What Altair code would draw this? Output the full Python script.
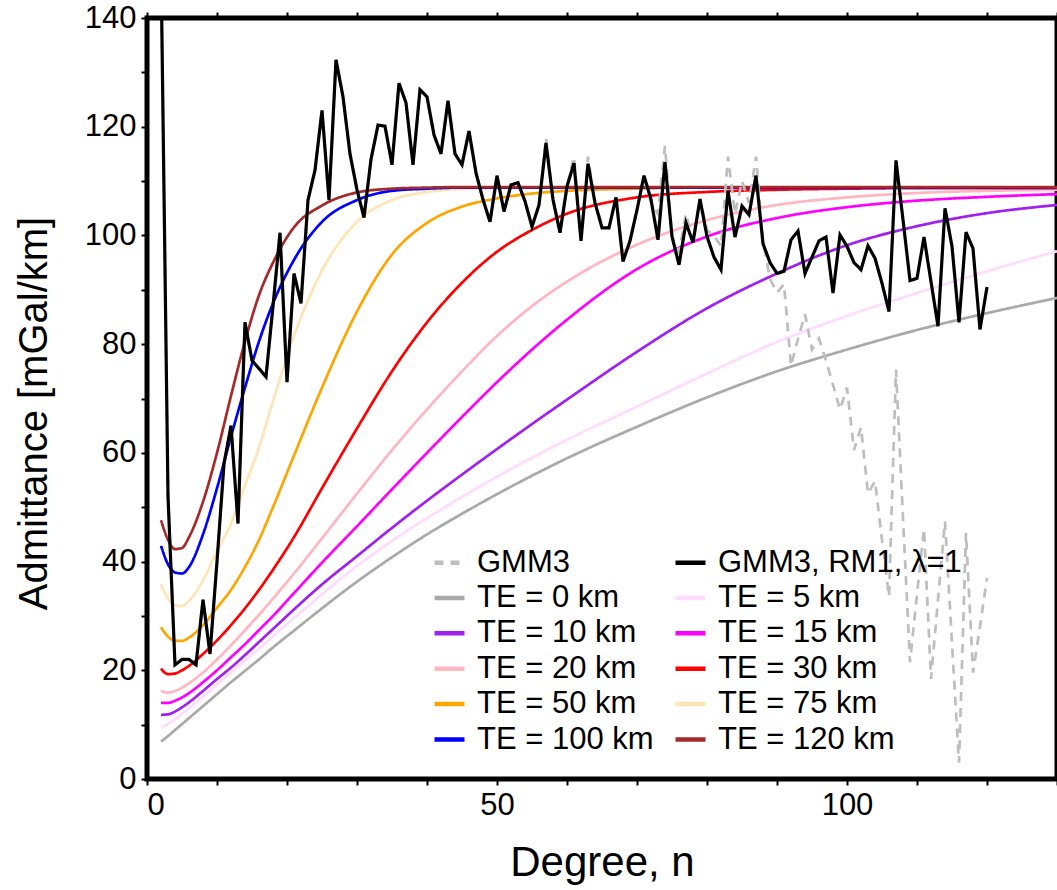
import altair as alt
import pandas as pd

FONT = "Liberation Sans"

# ---------------- data ----------------
deg_te = [2, 3, 4, 5, 6, 8, 10, 12, 14, 16, 18, 21, 25, 30, 35, 40, 45, 50, 55, 60, 70, 80, 90, 100, 110, 120, 130]

te0 = [6.9, 7.9, 9.0, 10.1, 11.2, 13.4, 15.6, 17.8, 19.9, 22.0, 24.2, 27.3, 31.4, 36.3, 40.8, 45.0, 48.8, 52.4, 55.8, 59.0, 64.8, 70.2, 75.0, 79.0, 82.6, 85.7, 88.5]
te5 = [9.5, 10.1, 11.0, 12.0, 13.0, 15.2, 17.4, 19.6, 21.8, 24.0, 26.3, 29.6, 34.0, 39.2, 43.8, 48.0, 51.9, 55.6, 59.1, 62.4, 68.5, 74.6, 80.4, 85.2, 89.4, 93.4, 97.1]
te10 = [11.8, 11.9, 12.4, 13.2, 14.1, 16.2, 18.4, 20.5, 22.8, 25.2, 27.6, 31.2, 35.8, 41.0, 46.2, 51.2, 56.0, 60.7, 65.3, 69.8, 78.6, 86.6, 93.0, 98.2, 101.7, 104.1, 105.6]
te15 = [14.0, 14.0, 14.4, 15.0, 15.8, 17.8, 20.0, 22.4, 24.8, 27.4, 30.0, 34.2, 39.8, 46.5, 53.3, 60.0, 66.6, 73.0, 79.0, 84.5, 93.8, 99.8, 103.2, 105.2, 106.4, 107.1, 107.6]
te20 = [16.2, 15.9, 16.2, 16.8, 17.6, 19.6, 22.0, 24.6, 27.4, 30.2, 33.2, 37.8, 44.3, 52.5, 60.5, 68.0, 75.0, 81.5, 87.0, 91.5, 98.3, 102.8, 105.6, 107.0, 107.8, 108.2, 108.4]
te30 = [20.3, 19.3, 19.4, 20.0, 20.8, 23.0, 25.5, 28.3, 31.4, 34.8, 38.5, 44.5, 53.5, 64.5, 75.0, 84.0, 91.3, 97.0, 101.0, 104.0, 107.0, 108.0, 108.4, 108.6, 108.7, 108.7, 108.7]
te50 = [27.9, 26.2, 25.4, 25.4, 26.0, 28.3, 31.5, 34.8, 39.0, 44.0, 50.0, 59.5, 72.0, 86.0, 96.5, 102.3, 105.3, 106.8, 107.7, 108.2, 108.6, 108.8, 108.8, 108.8, 108.8, 108.8, 108.8]
te75 = [35.8, 33.2, 32.0, 31.8, 32.8, 36.5, 42.0, 47.0, 54.0, 61.0, 69.5, 81.5, 93.5, 102.5, 106.5, 108.0, 108.5, 108.7, 108.8, 108.8, 108.8, 108.8, 108.8, 108.8, 108.8, 108.8, 108.8]
te100 = [42.9, 39.5, 38.0, 37.8, 39.0, 45.0, 53.5, 63.0, 72.0, 80.5, 87.5, 95.5, 102.5, 106.5, 108.2, 108.6, 108.8, 108.8, 108.8, 108.8, 108.8, 108.8, 108.8, 108.8, 108.8, 108.8, 108.8]
te120 = [47.6, 44.0, 42.3, 42.5, 44.5, 51.0, 60.0, 70.5, 80.5, 89.0, 95.0, 101.5, 105.5, 107.9, 108.6, 108.8, 108.9, 108.9, 108.9, 108.9, 108.9, 108.9, 108.9, 108.9, 108.9, 108.9, 108.9]

deg_obs = list(range(2, 121))
gmm3_rm1 = [150, 52, 21, 22, 22, 21, 33, 23, 40, 58, 65, 47, 84, 77, 75.5, 74, 87, 100.5, 73, 93,
            87.5, 106.5, 112, 123, 106.5, 132.3, 125.5, 115, 108.4, 103.3, 114, 120.3, 120.1, 113, 128, 124.4, 113, 126.8, 125.5, 118.5,
            115, 124.8, 115, 113, 119.2, 111.5, 106.6, 102.5, 111, 104.4, 109.3, 109.7, 106.3, 101.6, 105.6, 117, 106.6, 100.5, 109, 113.3,
            99, 113.2, 106, 101.4, 101.4, 107, 95.2, 99, 104.7, 111, 106.6, 99.2, 113.5, 99.8, 94.6, 102.3, 98.7, 106.7, 99.8, 96,
            93.7, 108.2, 99.7, 105.4, 103.8, 111, 98.5, 95, 93, 93.4, 99.2, 100.8, 93, 96, 99, 99.7, 89.4, 100.1, 98, 95,
            93.7, 98.1, 95.8, 91.2, 86, 113.8, 102.9, 91.7, 92.1, 99.7, 91.5, 83.3, 105, 98, 84, 100.6, 97.6, 82.7, 90.5]
gmm3 = gmm3_rm1[:55] + [
    118, 106.6, 100.5, 109, 114.5, 99, 114.5, 106, 102, 101.4, 107, 95.2, 99, 104.7, 111, 106, 104, 116.5, 99.8, 97,
    104, 98.7, 106.7, 101, 100, 98, 114.5, 104, 110, 106, 114.5, 99, 92, 89.5, 91, 76, 81, 85.5, 79, 81,
    77, 72.5, 68, 72, 60.5, 64.7, 52.5, 54.8, 44, 33.6, 75.3, 48, 21.5, 34, 46, 18.4, 33, 47.4, 25, 3,
    45.3, 19.6, 28, 37]

te_names = ["TE = 0 km", "TE = 5 km", "TE = 10 km", "TE = 15 km", "TE = 20 km",
            "TE = 30 km", "TE = 50 km", "TE = 75 km", "TE = 100 km", "TE = 120 km"]
te_lists = [te0, te5, te10, te15, te20, te30, te50, te75, te100, te120]

# legend order (filled column by column: left column, then right column)
SERIES = ["GMM3", "TE = 0 km", "TE = 10 km", "TE = 20 km", "TE = 50 km", "TE = 100 km",
          "GMM3, RM1, λ=1", "TE = 5 km", "TE = 15 km", "TE = 30 km", "TE = 75 km", "TE = 120 km"]
COLORS = ["#bebebe", "#a9a9a9", "#a020f0", "#ffb6c1", "#ffa500", "#0000ff",
          "#000000", "#ffdcff", "#ff00ff", "#ff0000", "#ffe4b5", "#a52a2a"]
DASHES = [[9, 7]] + [[1, 0]] * 11

W, H = 910, 761

color_enc = alt.Color(
    "series:N",
    scale=alt.Scale(domain=SERIES, range=COLORS),
    legend=alt.Legend(
        title=None, orient="none", legendX=285, legendY=527, columns=2,
        symbolType="stroke", symbolSize=900, symbolStrokeWidth=4.5,
        labelFont=FONT, labelFontSize=31, labelColor="black", labelOffset=10,
        rowPadding=2.4, columnPadding=12, padding=0, labelLimit=400,
    ),
)
dash_enc = alt.StrokeDash(
    "series:N",
    scale=alt.Scale(domain=SERIES, range=DASHES),
    legend=alt.Legend(title=None),
)

xscale = alt.Scale(domain=[0, 130], nice=False, zero=False)
yscale = alt.Scale(domain=[0, 140], nice=False, zero=False)

x_axis_bottom = alt.Axis(
    values=list(range(0, 131, 10)),
    labelExpr="datum.value % 50 == 0 ? datum.label : ''",
    title="Degree, n", titleFont=FONT, titleFontSize=42, titleFontWeight="normal",
    titleColor="black", titleX=455, titleY=96, titleBaseline="alphabetic",
    labelFont=FONT, labelFontSize=31, labelColor="black", labelPadding=5,
    tickSize=6, tickWidth=2, tickColor="black", domain=False, grid=False,
)
y_axis_left = alt.Axis(
    values=list(range(0, 141, 10)),
    labelExpr="datum.value % 20 == 0 ? datum.label : ''",
    title="Admittance [mGal/km]", titleFont=FONT, titleFontSize=40, titleFontWeight="normal",
    titleColor="black", titleX=-101, titleY=395, titleAngle=-90, titleBaseline="alphabetic",
    labelFont=FONT, labelFontSize=31, labelColor="black", labelPadding=5,
    tickSize=6, tickWidth=2, tickColor="black", domain=False, grid=False,
)
x_axis_top = alt.Axis(
    orient="top", values=list(range(0, 131, 10)), labels=False, title=None,
    tickSize=6, tickWidth=2, tickColor="black", domain=False, grid=False,
)

layers = []
for i, (name, vals) in enumerate(zip(te_names, te_lists)):
    df = pd.DataFrame({"n": deg_te, "adm": vals, "series": name})
    layers.append(
        alt.Chart(df).mark_line(strokeWidth=2.7, clip=True, interpolate="monotone").encode(
            x=alt.X("n:Q", scale=xscale, axis=x_axis_bottom if i == 0 else None),
            y=alt.Y("adm:Q", scale=yscale, axis=y_axis_left if i == 0 else None),
            color=color_enc, strokeDash=dash_enc,
        )
    )

df_g = pd.DataFrame({"n": deg_obs, "adm": gmm3, "series": "GMM3"})
layers.append(
    alt.Chart(df_g).mark_line(strokeWidth=2.7, clip=True).encode(
        x=alt.X("n:Q", scale=xscale, axis=None),
        y=alt.Y("adm:Q", scale=yscale, axis=None),
        color=color_enc, strokeDash=dash_enc,
    )
)
df_b = pd.DataFrame({"n": deg_obs, "adm": gmm3_rm1, "series": "GMM3, RM1, λ=1"})
layers.append(
    alt.Chart(df_b).mark_line(strokeWidth=3.2, clip=True).encode(
        x=alt.X("n:Q", scale=xscale, axis=x_axis_top),
        y=alt.Y("adm:Q", scale=yscale, axis=None),
        color=color_enc, strokeDash=dash_enc,
    )
)

chart = (
    alt.layer(*layers)
    .resolve_axis(x="independent", y="independent")
    .properties(
        width=W, height=H,
        autosize=alt.AutoSizeParams(type="none"),
        padding={"left": 147, "top": 18, "right": 0, "bottom": 111},
        background="white",
    )
    .configure_view(stroke="black", strokeWidth=5, fill="white")
)

chart.save("out.html", embed_options={"renderer": "svg", "actions": False})
